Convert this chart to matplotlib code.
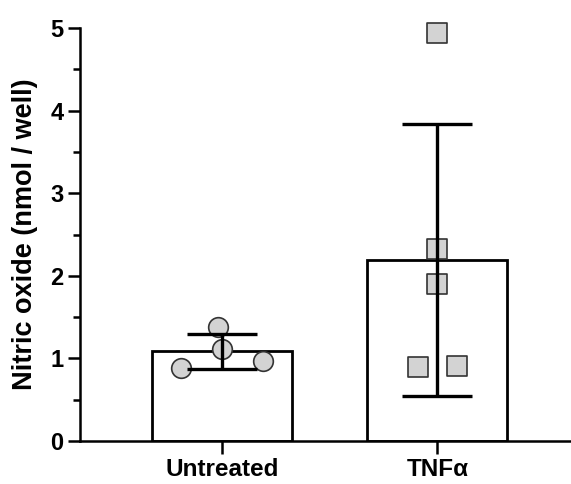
import matplotlib
matplotlib.use('Agg')

import numpy as np
import matplotlib.pyplot as plt
from matplotlib.ticker import MultipleLocator

# === Data ===
groups = ['Untreated', 'TNFα']
untreated_vals = [0.88, 1.38, 1.11, 0.97]
untreated_x_off = [-0.19, -0.02, 0.0, 0.19]
tnf_vals = [4.94, 2.32, 1.90, 0.90, 0.91]
tnf_x_off = [0.0, 0.0, 0.0, -0.09, 0.09]
means = [1.085, 2.19]
sds = [0.21, 1.65]

plt.rcParams['font.family'] = ['Liberation Sans', 'DejaVu Sans']
plt.rcParams['font.weight'] = 'bold'

fig = plt.figure(figsize=(5.71, 4.84), dpi=100)
ax = fig.add_axes([0.140, 0.0888, 0.86, 0.853])

x = np.arange(len(groups))
ax.bar(x, means, width=0.65, color='white', edgecolor='black', linewidth=2.0, zorder=1)

# individual points (not clipped, the top square pokes above the axis)
ax.scatter(x[0] + np.array(untreated_x_off), untreated_vals, s=200, marker='o',
           facecolor='#d3d3d3', edgecolor='#333333', linewidth=1.2, zorder=2, clip_on=False)
ax.scatter(x[1] + np.array(tnf_x_off), tnf_vals, s=200, marker='s',
           facecolor='#d3d3d3', edgecolor='#333333', linewidth=1.2, zorder=2, clip_on=False)

ax.errorbar(x, means, yerr=sds, fmt='none', ecolor='black', elinewidth=2.4,
            capsize=25, capthick=2.4, zorder=3)

ax.set_xlim(-0.66, 1.62)
ax.set_ylim(0, 5)
ax.yaxis.set_major_locator(MultipleLocator(1))
ax.yaxis.set_minor_locator(MultipleLocator(0.5))
ax.set_xticks(x)
ax.set_xticklabels(groups, fontsize=17.5, fontweight='bold')
ax.tick_params(axis='y', which='major', length=9, width=1.8, labelsize=17, pad=3)
ax.tick_params(axis='y', which='minor', length=5, width=1.8)
ax.tick_params(axis='x', length=9, width=1.8, labelsize=17.5, pad=3)
for lab in ax.get_yticklabels():
    lab.set_fontweight('bold')

ax.set_ylabel('Nitric oxide (nmol / well)', fontsize=19.5, fontweight='bold')
ax.yaxis.set_label_coords(-0.085, 0.5)

ax.spines['top'].set_visible(False)
ax.spines['right'].set_visible(False)
ax.spines['left'].set_linewidth(1.8)
ax.spines['bottom'].set_linewidth(1.8)

fig.savefig('out.png', dpi=100)
